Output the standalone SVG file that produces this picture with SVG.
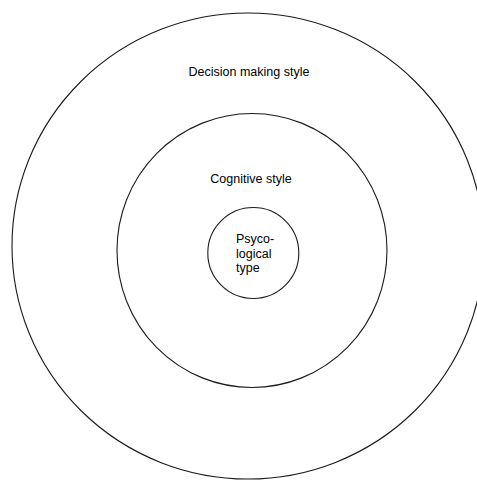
<svg xmlns="http://www.w3.org/2000/svg" width="477" height="480" viewBox="0 0 477 480">
<style>
.ring{fill:none;stroke:#1a1a1a;stroke-width:1.1}
.t{font-family:"Liberation Sans",Arial,sans-serif;font-size:12.5px;fill:#000}
</style>
<rect width="477" height="480" fill="#fff"/>
<g id="decision-making-style">
<ellipse class="ring" cx="248" cy="246" rx="236" ry="233"/>
<text class="t" x="249" y="76" text-anchor="middle">Decision making style</text>
</g>
<g id="cognitive-style">
<ellipse class="ring" cx="252" cy="250.5" rx="135" ry="137"/>
<text class="t" x="251" y="182.5" text-anchor="middle">Cognitive style</text>
</g>
<g id="psychological-type">
<circle class="ring" cx="253.3" cy="253" r="45.5"/>
<text class="t" x="236" y="243">Psyco-</text>
<text class="t" x="236" y="257.5">logical</text>
<text class="t" x="236" y="272">type</text>
</g>
<g id="connectors"/>
</svg>
